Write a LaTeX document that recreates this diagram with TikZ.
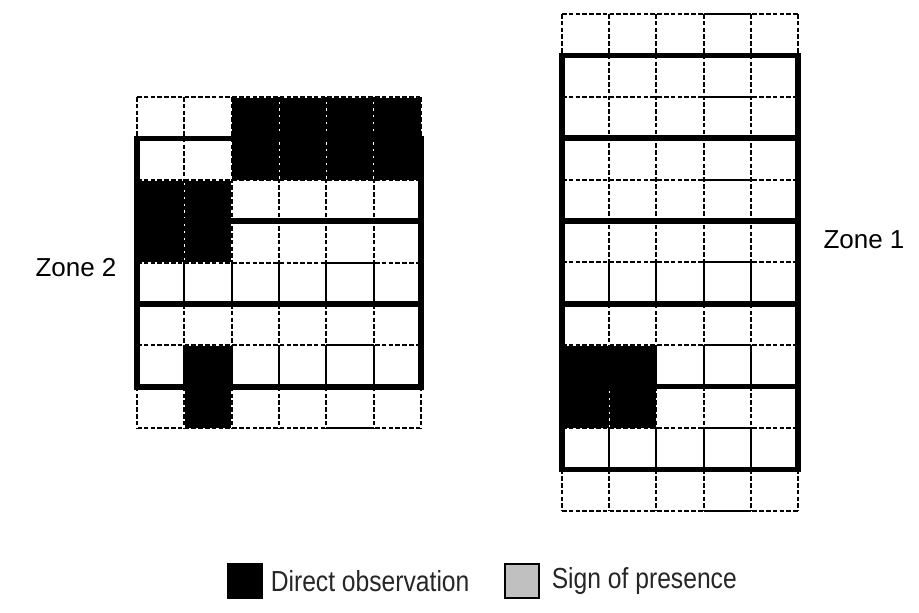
\documentclass[tikz,border=0pt]{standalone}
\usepackage{fontspec}
\setmainfont{Liberation Sans}
\newfontfamily\legendfont[FakeStretch=0.85]{Liberation Sans}
\usetikzlibrary{positioning}
\definecolor{signgray}{HTML}{C0C0C0}
\tikzset{
  grid/thick/.style={line width=5.5pt, line cap=rect},
  grid/solid/.style={line width=2pt},
  grid/dashed/.style={line width=2pt, dash pattern=on 4.5pt off 2.3pt,
    preaction={draw=white, solid}},
  zone/label/.style={font=\fontsize{26}{30}\selectfont, inner sep=0pt},
  legend/box/.style={draw=black, line width=1.2pt, minimum size=34pt, inner sep=0pt},
  legend/text/.style={font=\legendfont\fontsize{29}{34}\selectfont, inner sep=0pt, text=black!85}
}

\begin{document}
\begin{tikzpicture}[x=1pt, y=-1pt]
\useasboundingbox (0,0) rectangle (919,613);

% --- Zone 2 (left grid)
\begin{scope}[shift={(137,97)}, x=47.3pt, y=-41.4pt]
  \fill (2,0) rectangle (6,2);
  \fill (0,2) rectangle (2,4);
  \fill (1,6) rectangle (2,8);
  \foreach \r in {0,2,4,6,8}
    \draw[grid/dashed] (0,\r) -- (6,\r);
  \foreach \c in {1,...,5} {
    \draw[grid/dashed] (\c,0) -- (\c,4);
    \draw[grid/dashed] (\c,5) -- (\c,6);
    \draw[grid/dashed] (\c,7) -- (\c,8);
    \draw[grid/solid] (\c,4) -- (\c,5);
    \draw[grid/solid] (\c,6) -- (\c,7);
  }
  \foreach \c in {0,6} {
    \draw[grid/dashed] (\c,0) -- (\c,1);
    \draw[grid/dashed] (\c,7) -- (\c,8);
  }
  \foreach \r in {4,6,8}
    \draw[grid/solid] (4,\r) -- (5,\r);
  \foreach \r in {3,5}
    \draw[grid/thick] (0,\r) -- (6,\r);
  \draw[grid/thick] (0,1) rectangle (6,7);
\end{scope}

% --- Zone 1 (right grid)
\begin{scope}[shift={(562,14)}, x=47.2pt, y=-41.4pt]
  \fill (0,8) rectangle (2,10);
  \foreach \r in {0,2,...,12}
    \draw[grid/dashed] (0,\r) -- (5,\r);
  \foreach \c in {1,...,4} {
    \draw[grid/dashed] (\c,0) -- (\c,6);
    \draw[grid/dashed] (\c,7) -- (\c,8);
    \draw[grid/dashed] (\c,9) -- (\c,10);
    \draw[grid/dashed] (\c,11) -- (\c,12);
    \draw[grid/solid] (\c,6) -- (\c,7);
    \draw[grid/solid] (\c,8) -- (\c,9);
    \draw[grid/solid] (\c,10) -- (\c,11);
  }
  \foreach \c in {0,5} {
    \draw[grid/dashed] (\c,0) -- (\c,1);
    \draw[grid/dashed] (\c,11) -- (\c,12);
  }
  \foreach \r in {0,2,...,12}
    \draw[grid/solid] (3,\r) -- (4,\r);
  \foreach \r in {3,5,7,9}
    \draw[grid/thick] (0,\r) -- (5,\r);
  \draw[grid/thick] (0,1) rectangle (5,11);
\end{scope}

% --- zone labels
\node[zone/label] (zone2) at (76,268) {Zone 2};
\node[zone/label] (zone1) at (864,240) {Zone 1};

% --- legend
\node[legend/box, fill=black] (obsbox) at (245,581) {};
\node[legend/text, right=8pt of obsbox] (obstext) {Direct observation};
\node[legend/box, fill=signgray] (signbox) at (522,581) {};
\node[legend/text, right=12pt of signbox] (signtext) {Sign of presence};

\end{tikzpicture}
\end{document}
